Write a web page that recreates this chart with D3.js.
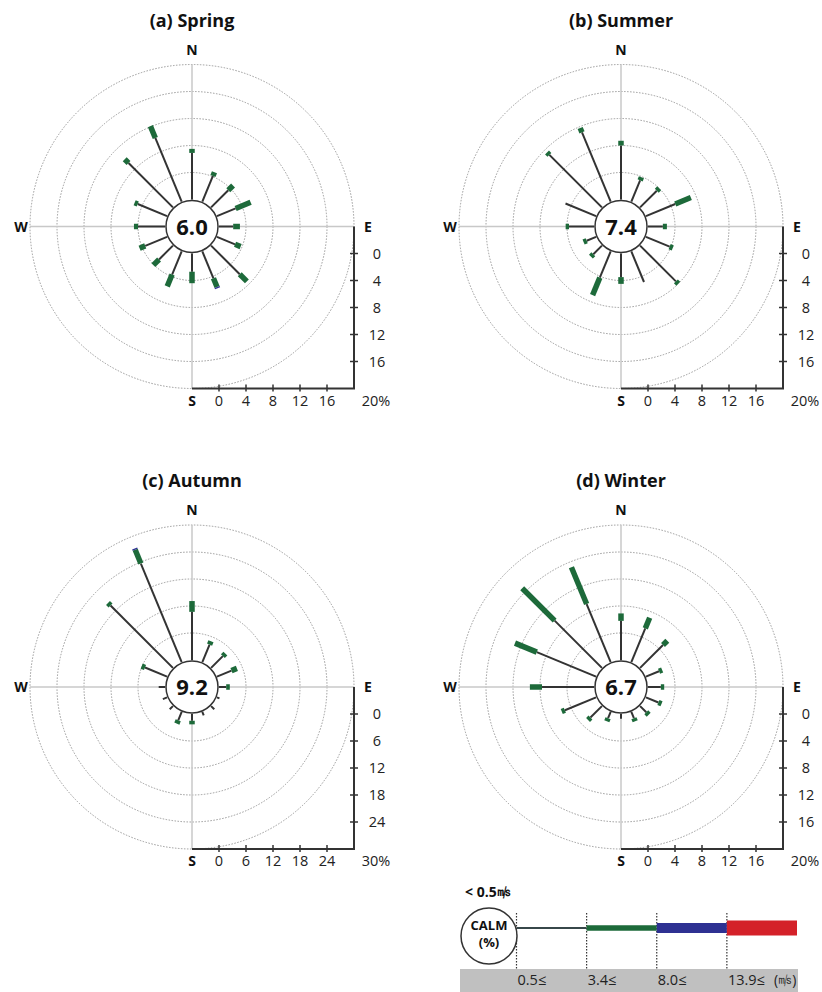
<!DOCTYPE html>
<html>
  <head>
    <meta charset="utf-8">
    <title>Seasonal wind roses</title>
    <script src="https://d3js.org/d3.v7.min.js"></script>
    <style>
      body { margin: 0; background: #fff; }
      svg text { font-family: "Open Sans", "Noto Sans", sans-serif; fill: #111; }
    </style>
  </head>
  <body>
    <script>
      // 16 directions, clockwise from N
      var directions = ["N","NNE","NE","ENE","E","ESE","SE","SSE","S","SSW","SW","WSW","W","WNW","NW","NNW"];
      var titles = ["(a) Spring", "(b) Summer", "(c) Autumn", "(d) Winter"];
      var calm = [6.0, 7.4, 9.2, 6.7];
      var axisMax = [20, 20, 30, 20];
      var tickLabels = [
        [0, 4, 8, 12, 16],
        [0, 4, 8, 12, 16],
        [0, 6, 12, 18, 24],
        [0, 4, 8, 12, 16]
      ];

      // frequency (%) by speed class: 0.5-3.4, 3.4-8.0, 8.0-13.9 m/s
      var springLow  = [6.9, 4.1, 3.6, 3.0, 2.1, 2.9, 6.0, 4.3, 2.7, 3.7, 2.9, 3.5, 4.0, 4.7, 9.3, 10.2];
      var springMid  = [0.6, 0.6, 1.0, 2.4, 1.0, 0.9, 1.5, 1.4, 1.7, 1.9, 1.2, 0.9, 0.6, 0.5, 0.8, 1.9];
      var springHigh = [0, 0, 0, 0, 0, 0, 0, 0.2, 0, 0, 0, 0, 0, 0, 0, 0];

      var summerLow  = [8.0, 3.4, 3.5, 4.7, 2.2, 3.8, 7.5, 4.9, 3.5, 4.2, 1.8, 1.5, 3.7, 4.9, 11.0, 11.1];
      var summerMid  = [0.7, 0.5, 0.5, 2.5, 0.6, 0.5, 0.5, 0, 1.0, 2.8, 0.5, 0.5, 0.5, 0, 0.5, 0.7];
      var summerHigh = [0, 0, 0, 0, 0, 0, 0, 0, 0, 0, 0, 0, 0, 0, 0, 0];

      var autumnLow  = [10.7, 4.2, 3.7, 3.5, 1.6, 0.6, 1.0, 0.8, 1.5, 2.0, 1.0, 1.0, 1.4, 5.3, 19.6, 23.7];
      var autumnMid  = [2.4, 0.8, 0.8, 1.3, 0.8, 0, 0, 0, 0.8, 0.8, 0, 0, 0, 0.8, 0.8, 3.3];
      var autumnHigh = [0, 0, 0, 0, 0, 0, 0, 0, 0, 0, 0, 0, 0, 0, 0, 0.3];

      var winterLow  = [5.8, 5.4, 4.8, 2.1, 1.9, 2.0, 1.3, 1.0, 0.7, 1.0, 2.4, 5.0, 7.7, 9.5, 9.9, 9.3];
      var winterMid  = [1.1, 1.7, 0.9, 0.5, 0.5, 0.5, 0.5, 0.5, 0, 0.5, 0.5, 0.5, 1.8, 3.5, 6.8, 5.9];
      var winterHigh = [0, 0, 0, 0, 0, 0, 0, 0, 0, 0, 0, 0, 0, 0, 0, 0];

      var lowData = [springLow, summerLow, autumnLow, winterLow];
      var midData = [springMid, summerMid, autumnMid, winterMid];
      var highData = [springHigh, summerHigh, autumnHigh, winterHigh];

      var speedLabels = ["0.5≤", "3.4≤", "8.0≤", "13.9≤"];

      var width = 822, height = 992;
      var inner = 27, outer = 162;
      var centersX = [192, 621], centersY = [226.5, 687];

      var svg = d3.select("body").append("svg")
        .attr("width", width)
        .attr("height", height);

      var colors = { low: "#333", mid: "#1d6a3a", high: "#2e3192", red: "#d42129" };

      function drawRose(k) {
        var cx = centersX[k % 2], cy = centersY[Math.floor(k / 2)];
        var r = d3.scaleLinear().domain([0, axisMax[k]]).range([inner, outer]);
        var g = svg.append("g").attr("transform", "translate(" + cx + "," + cy + ")");

        svg.append("text")
          .attr("x", cx).attr("y", cy - 200)
          .attr("text-anchor", "middle")
          .style("font-size", "18px").style("font-weight", "bold")
          .text(titles[k]);

        // dotted rings
        var ringVals = d3.range(1, 6).map(function(i) { return i * axisMax[k] / 5; });
        g.selectAll("circle.ring").data(ringVals).enter().append("circle")
          .attr("class", "ring")
          .attr("r", function(d) { return r(d); })
          .attr("fill", "none")
          .attr("stroke", "#9a9a9a")
          .attr("stroke-width", 1)
          .attr("stroke-dasharray", "1.5,1.5");

        // crosshair
        g.append("line").attr("x1", -outer).attr("x2", outer).attr("y1", 0).attr("y2", 0)
          .attr("stroke", "#c8c8c8").attr("stroke-width", 1.5);
        g.append("line").attr("y1", -outer).attr("y2", outer).attr("x1", 0).attr("x2", 0)
          .attr("stroke", "#c8c8c8").attr("stroke-width", 1.5);

        // compass labels
        var compass = [["N", 0, -172], ["E", 176, 5], ["S", 0, 179], ["W", -171, 5]];
        compass.forEach(function(c) {
          g.append("text").attr("x", c[1]).attr("y", c[2])
            .attr("text-anchor", "middle")
            .style("font-size", "14px").style("font-weight", "bold")
            .text(c[0]);
        });

        // L-shaped axes in lower right
        var axisG = g.append("g");
        axisG.append("path")
          .attr("d", "M" + outer + ",0 L" + outer + "," + outer + " L0," + outer)
          .attr("fill", "none").attr("stroke", "#333").attr("stroke-width", 2);

        var ticks = tickLabels[k];
        axisG.selectAll("line.bt").data(ticks).enter().append("line")
          .attr("class", "bt")
          .attr("x1", function(d) { return r(d); }).attr("x2", function(d) { return r(d); })
          .attr("y1", outer - 4).attr("y2", outer + 3)
          .attr("stroke", "#333").attr("stroke-width", 1.5);
        axisG.selectAll("text.bt").data(ticks).enter().append("text")
          .attr("class", "bt")
          .attr("x", function(d) { return r(d); }).attr("y", outer + 17)
          .attr("text-anchor", "middle")
          .style("font-size", "14.5px").style("fill", "#222")
          .text(function(d) { return d; });
        axisG.selectAll("line.vt").data(ticks).enter().append("line")
          .attr("class", "vt")
          .attr("y1", function(d) { return r(d); }).attr("y2", function(d) { return r(d); })
          .attr("x1", outer - 4).attr("x2", outer + 4)
          .attr("stroke", "#333").attr("stroke-width", 1.5);
        axisG.selectAll("text.vt").data(ticks).enter().append("text")
          .attr("class", "vt")
          .attr("x", outer + 23).attr("y", function(d) { return r(d) + 5; })
          .attr("text-anchor", "middle")
          .style("font-size", "14.5px").style("fill", "#222")
          .text(function(d) { return d; });
        axisG.append("text")
          .attr("x", outer + 22).attr("y", outer + 17)
          .attr("text-anchor", "middle")
          .style("font-size", "14.5px").style("fill", "#222")
          .text(axisMax[k] + "%");

        // petals
        var petals = directions.map(function(d, i) {
          var lo = lowData[k][i], mi = midData[k][i], hi = highData[k][i];
          return { dir: d, angle: i * 22.5, low: lo, mid: lo + mi, high: lo + mi + hi };
        });
        var pg = g.selectAll("g.petal").data(petals).enter().append("g")
          .attr("class", "petal")
          .attr("transform", function(d) { return "rotate(" + d.angle + ")"; });
        pg.append("line")
          .attr("x1", 0).attr("x2", 0)
          .attr("y1", -inner).attr("y2", function(d) { return -r(d.low); })
          .attr("stroke", colors.low).attr("stroke-width", 2);
        pg.filter(function(d) { return d.mid > d.low; }).append("line")
          .attr("x1", 0).attr("x2", 0)
          .attr("y1", function(d) { return -r(d.low); }).attr("y2", function(d) { return -r(d.mid); })
          .attr("stroke", colors.mid).attr("stroke-width", 5.5);
        pg.filter(function(d) { return d.high > d.mid; }).append("line")
          .attr("x1", 0).attr("x2", 0)
          .attr("y1", function(d) { return -r(d.mid); }).attr("y2", function(d) { return -r(d.high); })
          .attr("stroke", colors.high).attr("stroke-width", 5.5);

        // calm circle
        g.append("circle").attr("r", inner - 1)
          .attr("fill", "#fff").attr("stroke", "#333").attr("stroke-width", 1.5);
        g.append("text").attr("y", 8)
          .attr("text-anchor", "middle")
          .style("font-size", "22px").style("font-weight", "bold")
          .text(calm[k].toFixed(1));
      }

      for (var k = 0; k < 4; k++) drawRose(k);

      // legend
      var legend = svg.append("g");
      var lx = d3.scaleLinear().domain([0, 4]).range([516.5, 797]);
      var ly = 928;
      legend.append("rect")
        .attr("x", 460).attr("y", 969).attr("width", 338).attr("height", 23)
        .attr("fill", "#c0c0c0");
      legend.selectAll("line.dot").data([0, 1, 2, 3]).enter().append("line")
        .attr("class", "dot")
        .attr("x1", function(d) { return lx(d); }).attr("x2", function(d) { return lx(d); })
        .attr("y1", 913).attr("y2", 969)
        .attr("stroke", "#333").attr("stroke-width", 1.2)
        .attr("stroke-dasharray", "1.5,1.5");
      var bands = [
        { from: 0, to: 1, color: "#37474a", w: 2 },
        { from: 1, to: 2, color: colors.mid, w: 5.5 },
        { from: 2, to: 3, color: colors.high, w: 10 },
        { from: 3, to: 4, color: colors.red, w: 15 }
      ];
      legend.selectAll("line.band").data(bands).enter().append("line")
        .attr("class", "band")
        .attr("x1", function(d) { return lx(d.from); }).attr("x2", function(d) { return lx(d.to); })
        .attr("y1", ly).attr("y2", ly)
        .attr("stroke", function(d) { return d.color; })
        .attr("stroke-width", function(d) { return d.w; });
      legend.append("circle")
        .attr("cx", 489).attr("cy", 936).attr("r", 28)
        .attr("fill", "#fff").attr("stroke", "#333").attr("stroke-width", 1.5);
      legend.append("text").attr("x", 489).attr("y", 930)
        .attr("text-anchor", "middle")
        .style("font-size", "13px").style("font-weight", "bold")
        .text("CALM");
      legend.append("text").attr("x", 489).attr("y", 947)
        .attr("text-anchor", "middle")
        .style("font-size", "13px").style("font-weight", "bold")
        .text("(%)");
      legend.append("text").attr("x", 465).attr("y", 897)
        .style("font-size", "14px").style("font-weight", "bold")
        .text("< 0.5㎧");
      legend.selectAll("text.speed").data(speedLabels).enter().append("text")
        .attr("class", "speed")
        .attr("x", function(d, i) { return lx(i) + 1; }).attr("y", 985)
        .style("font-size", "14.5px").style("fill", "#222")
        .text(function(d) { return d; });
      legend.append("text").attr("x", 774).attr("y", 985)
        .style("font-size", "14px").style("fill", "#222")
        .text("(㎧)");
    </script>
  </body>
</html>
